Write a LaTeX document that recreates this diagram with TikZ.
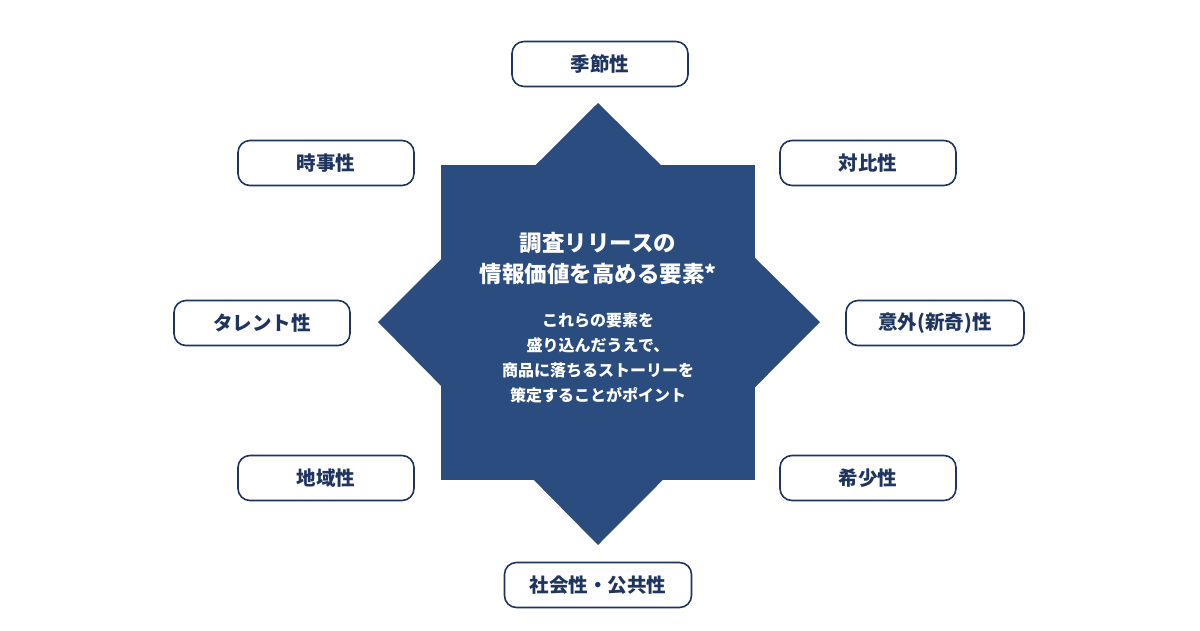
\documentclass[tikz,border=0pt]{standalone}
\usepackage{fontspec}
\setmainfont{Noto Sans CJK JP}
\definecolor{navy}{HTML}{2B4C7E}
\definecolor{navyd}{HTML}{1F3560}
\begin{document}
\begin{tikzpicture}[x=1pt,y=-1pt,
  tag/.style={draw=navyd,line width=1.6pt,fill=white,rounded corners=12pt,minimum width=176pt,minimum height=45pt,font=\fontsize{19.5}{22}\selectfont\bfseries,text=navyd}]
\useasboundingbox (0,0) rectangle (1200,630);
\fill[white] (0,0) rectangle (1200,630);
\fill[navy] (598,103) -- (820,322) -- (598,545) -- (378,322) -- cycle;
\fill[navy] (441,165) rectangle (755,480);
\node[text=white,font=\fontsize{22.5}{31}\selectfont\bfseries,align=center] (title) at (598,258) {調査リリースの\\情報価値を高める要素*};
\node[text=white,font=\fontsize{16}{25}\selectfont\bfseries,align=center] (body) at (598,358) {これらの要素を\\盛り込んだうえで、\\商品に落ちるストーリーを\\策定することがポイント};
\node[tag] (a) at (600,64) {季節性};
\node[tag] (b) at (326,163) {時事性};
\node[tag] (c) at (868,163) {対比性};
\node[tag] (d) at (262,323) {タレント性};
\node[tag,minimum width=178pt] (e) at (935,323) {意外(新奇)性};
\node[tag] (f) at (326,478) {地域性};
\node[tag] (g) at (868,478) {希少性};
\node[tag,minimum width=187pt] (h) at (598,585) {社会性・公共性};
\end{tikzpicture}
\end{document}
